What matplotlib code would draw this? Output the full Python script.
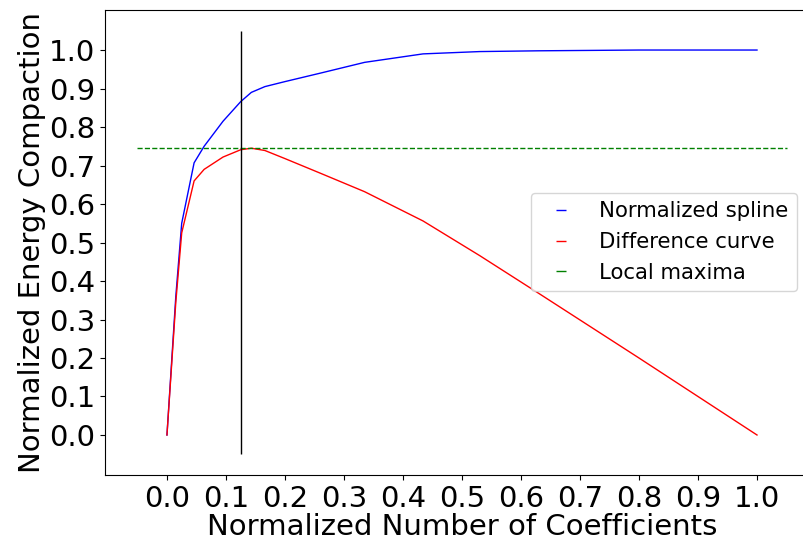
import numpy as np
import matplotlib.pyplot as plt
from matplotlib.lines import Line2D

# normalized curve points
x_norm = [0, 0.015, 0.025, 0.046, 0.063, 0.095, 0.125, 0.143, 0.166, 0.2,
          0.26, 0.335, 0.434, 0.53, 0.63, 0.8, 1.0]
y_spline = [0, 0.36, 0.55, 0.707, 0.75, 0.815, 0.866, 0.89, 0.905, 0.918,
            0.94, 0.968, 0.99, 0.996, 0.998, 1.0, 1.0]
y_diff = [0, 0.345, 0.525, 0.66, 0.69, 0.722, 0.741, 0.745, 0.739, 0.718,
          0.68, 0.632, 0.556, 0.466, 0.368, 0.2, 0.0]
knee_x = 0.125
local_max = 0.745
ticks = [round(0.1 * i, 1) for i in range(11)]
labels = ["Normalized spline", "Difference curve", "Local maxima"]

fig = plt.figure(figsize=(8.04, 5.40), dpi=100)
ax = fig.add_axes([0.1306, 0.1196, 0.888, 0.8626])

ax.plot(x_norm, y_spline, "b", lw=1)
ax.plot(x_norm, y_diff, "r", lw=1)
ax.hlines(local_max, -0.05, 1.05, colors="g", linestyles="--", lw=1)
ax.vlines(knee_x, -0.05, 1.05, colors="k", lw=1)

ax.set_xlim(-0.105, 1.105)
ax.set_ylim(-0.105, 1.105)
ax.set_xticks(ticks)
ax.set_yticks(ticks)
ax.tick_params(labelsize=21)
ax.set_xlabel("Normalized Number of Coefficients", fontsize=21, labelpad=0)
ax.set_ylabel("Normalized Energy Compaction", fontsize=21, labelpad=2)

handles = [Line2D([], [], color=c, marker="_", linestyle="none", markersize=7.5)
           for c in ["b", "r", "g"]]
ax.legend(handles, labels, fontsize=15.3, loc="center right",
          bbox_to_anchor=(797 / 804, 1 - 242 / 540),
          bbox_transform=fig.transFigure, borderaxespad=0)

plt.savefig("out.png", dpi=100)
